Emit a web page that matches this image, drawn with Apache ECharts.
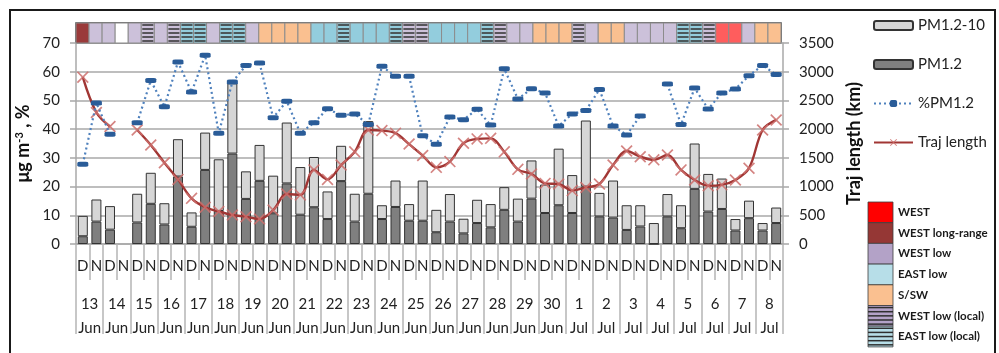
<!DOCTYPE html>
<html>
<head>
<meta charset="utf-8">
<script src="https://cdn.jsdelivr.net/npm/echarts@6/dist/echarts.min.js"></script>
<style>
  html, body { margin: 0; padding: 0; background: #ffffff; }
  #chart { width: 999px; height: 353px; }
</style>
</head>
<body>
<div id="chart"></div>
<script>
// ---- Sampling days (13 Jun - 8 Jul), each split into Day / Night ----
const dayNumbers = ['13','14','15','16','17','18','19','20','21','22','23','24','25','26',
                    '27','28','29','30','1','2','3','4','5','6','7','8'];
const dayMonths  = ['Jun','Jun','Jun','Jun','Jun','Jun','Jun','Jun','Jun','Jun','Jun','Jun','Jun','Jun',
                    'Jun','Jun','Jun','Jun','Jul','Jul','Jul','Jul','Jul','Jul','Jul','Jul'];
const periodLabels = ['D', 'N'];

// ---- Mass concentrations (µg m-3), one value per D/N sample ----
const pm12 = [2.7, 7.8, 5.0, null, 7.5, 14.0, 6.8, 23.5, 6.0, 25.8, 11.5, 31.5, 15.7, 22.0,
              10.7, 21.1, 10.2, 12.8, 8.7, 21.9, 7.8, 17.5, 8.7, 12.9, 8.1, 8.1, 4.1, 7.8,
              3.7, 7.3, 5.8, 11.9, 7.8, 15.8, 10.8, 13.5, 10.8, 20.0, 9.6, 9.2, 4.9, 6.1,
              0, 9.6, 5.5, 19.2, 11.3, 12.2, 4.7, 9.0, 4.7, 7.3];
const pm12to10 = [7.1, 7.7, 8.2, null, 10.0, 10.8, 7.4, 13.0, 5.0, 13.0, 18.0, 24.5, 9.6, 12.5,
                  13.1, 21.2, 16.6, 17.5, 9.6, 12.3, 9.7, 25.3, 4.8, 9.2, 5.8, 14.0, 7.8, 9.6,
                  5.1, 8.1, 8.1, 7.9, 8.0, 13.3, 9.9, 19.7, 13.2, 23.0, 8.2, 12.9, 8.6, 7.4,
                  7.3, 7.8, 8.0, 15.8, 13.1, 10.6, 4.0, 6.1, 2.6, 5.4];

// ---- Fine fraction share (%) ----
const pctPM12 = [27.8, 49.1, 38.2, null, 42.2, 56.9, 47.8, 63.4, 52.9, 65.7, 38.6, 56.4, 62.2, 63.0,
                 44.0, 49.7, 38.6, 42.2, 47.1, 44.8, 45.3, 41.6, 61.9, 58.4, 58.4, 37.7, 34.7, 44.2,
                 43.3, 46.9, 41.4, 61.0, 50.5, 54.1, 52.6, 41.1, 45.3, 46.5, 53.8, 41.1, 38.0, 44.6,
                 null, 55.7, 41.6, 54.3, 47.0, 52.6, 54.0, 58.6, 62.2, 59.0];

// ---- Back-trajectory length (km) ----
const trajLength = [2905, 2290, 2045, null, 1985, 1725, 1415, 1125, 795, 640, 565, 505, 475, 435,
                    590, 870, 855, 1290, 1125, 1375, 1605, 1985, 1975, 1930, 1740, 1540, 1335, 1435,
                    1755, 1830, 1840, 1605, 1300, 1220, 1055, 1045, 930, 985, 1045, 1375, 1620, 1520,
                    1465, 1550, 1290, 1115, 1015, 1030, 1115, 1320, 1985, 2160];

// ---- Air-mass classification strip ----
const bandClasses = ['WLR','WLo','WLo','none','WLo','WLL','WLo','WLL','ELL','ELL','WLo','ELL','ELL','WLo',
                     'S','S','S','S','EL','EL','ELL','EL','EL','EL','ELL','WLL','WLL','EL',
                     'EL','EL','EL','ELL','WLL','WLo','WLo','S','S','S','WLL','WLo','S','S',
                     'WLo','WLo','WLo','WLo','ELL','ELL','WLL','W','W','WLo','S','S'];
const airMassKeys   = ['W', 'WLR', 'WLo', 'EL', 'S', 'WLL', 'ELL'];
const airMassLabels = ['WEST', 'WEST long-range', 'WEST low', 'EAST low', 'S/SW', 'WEST low (local)', 'EAST low (local)'];

// strip colours and legend swatch colours
const stripColor = { W: '#ff5d5d', WLR: '#9a3a3a', WLo: '#ccc1da', EL: '#93cddd', S: '#fac090',
                     WLL: '#ccc1da', ELL: '#93cddd', none: '#ffffff' };
const swatchColor = { W: '#ff0000', WLR: '#953735', WLo: '#b3a2c7', EL: '#b7dee8', S: '#fac090',
                      WLL: '#b3a2c7', ELL: '#b7dee8' };
const hatched = { WLL: true, ELL: true };

const FONT = 'Lato, "Noto Sans", "DejaVu Sans", sans-serif';
const GRID_GRAY = '#a8a8a8';
const TEXT = '#222222';

const slotLabels = [];
dayNumbers.forEach(() => periodLabels.forEach(p => slotLabels.push(p)));
const dayLabels = dayNumbers.map((d, i) => d + '\n' + dayMonths[i]);

// legend for the classification strip, built as graphic elements
function airMassLegend() {
  const x0 = 868, y0 = 202, w = 25, h = 20.7;
  const children = [];
  airMassKeys.forEach((k, i) => {
    const y = y0 + i * h;
    children.push({ type: 'rect', shape: { x: x0, y: y, width: w, height: h },
      style: { fill: swatchColor[k], stroke: '#3c3c3c', lineWidth: 0.8 } });
    if (hatched[k]) {
      for (let s = 0; s < 5; s++) {
        const ly = y + (s + 0.5) * h / 5;
        children.push({ type: 'line', shape: { x1: x0, y1: ly, x2: x0 + w, y2: ly },
          style: { stroke: '#2f2f2f', lineWidth: 1.5 } });
      }
    }
    children.push({ type: 'text', x: x0 + 30, y: y + h / 2,
      style: { text: airMassLabels[i], font: 'bold 11.5px ' + FONT, fill: '#1a1a1a',
               verticalAlign: 'middle', align: 'left' } });
  });
  return { type: 'group', children: children, silent: true };
}

const chart = echarts.init(document.getElementById('chart'), null, { renderer: 'canvas' });

chart.setOption({
  animation: false,
  backgroundColor: '#ffffff',
  textStyle: { fontFamily: FONT },
  grid: [
    { left: 76, right: 216, top: 43, bottom: 109 },
    { left: 76, right: 218, top: 23, height: 20, show: true, borderColor: '#404040',
      borderWidth: 1.5, backgroundColor: 'transparent' }
  ],
  legend: {
    orient: 'vertical', left: 873, top: 18,
    itemWidth: 39, itemHeight: 9, itemGap: 24, padding: 0,
    textStyle: { fontFamily: FONT, fontSize: 15, color: TEXT },
    data: ['PM1.2-10', 'PM1.2', '%PM1.2', 'Traj length']
  },
  xAxis: [
    { type: 'category', gridIndex: 0, data: slotLabels, boundaryGap: true,
      axisLine: { lineStyle: { color: GRID_GRAY, width: 1.5 } },
      axisTick: { show: true, interval: 0, length: 36, lineStyle: { color: '#b5b5b5', width: 1.5 } },
      axisLabel: { interval: 0, margin: 15, fontSize: 15, color: TEXT, fontFamily: FONT },
      splitLine: { show: false } },
    { type: 'category', gridIndex: 0, data: dayLabels, position: 'bottom', offset: 0, boundaryGap: true,
      axisLine: { show: false },
      axisTick: { show: true, interval: 0, length: 90, lineStyle: { color: '#b5b5b5', width: 1.5 } },
      axisLabel: { interval: 0, margin: 48, fontSize: 15, lineHeight: 24, color: TEXT, fontFamily: FONT },
      splitLine: { show: false } },
    { type: 'category', gridIndex: 1, data: bandClasses.map((c, i) => i), show: false, boundaryGap: true }
  ],
  yAxis: [
    { type: 'value', gridIndex: 0, min: 0, max: 70, interval: 10, position: 'left',
      name: '{b|μg m}{s|-3}{b| , %}', nameLocation: 'middle', nameRotate: 90, nameGap: 42,
      nameTextStyle: { rich: {
        b: { fontSize: 18, fontWeight: 'bold', color: '#111', fontFamily: FONT },
        s: { fontSize: 11, fontWeight: 'bold', color: '#111', fontFamily: FONT, verticalAlign: 'top' } } },
      axisLine: { show: true, lineStyle: { color: GRID_GRAY, width: 1.5 } },
      axisTick: { show: true, length: 6, lineStyle: { color: GRID_GRAY, width: 1.5 } },
      axisLabel: { margin: 16, fontSize: 15, color: TEXT, fontFamily: FONT },
      splitLine: { show: true, lineStyle: { color: GRID_GRAY, width: 1.5 } } },
    { type: 'value', gridIndex: 0, min: 0, max: 3500, interval: 500, position: 'right',
      name: 'Traj length (km)', nameLocation: 'middle', nameRotate: 90, nameGap: 60,
      nameTextStyle: { fontSize: 18, fontWeight: 'bold', color: '#111', fontFamily: FONT },
      axisLine: { show: true, lineStyle: { color: GRID_GRAY, width: 1.5 } },
      axisTick: { show: true, length: 6, lineStyle: { color: GRID_GRAY, width: 1.5 } },
      axisLabel: { margin: 16, fontSize: 15, color: TEXT, fontFamily: FONT,
                   formatter: v => String(v) },
      splitLine: { show: false } },
    { type: 'value', gridIndex: 1, min: 0, max: 1, show: false }
  ],
  series: [
    { name: 'PM1.2', type: 'bar', stack: 'pm', xAxisIndex: 0, yAxisIndex: 0, barWidth: 10,
      data: pm12,
      itemStyle: { color: '#7f7f7f', borderColor: '#333333', borderWidth: 1 } },
    { name: 'PM1.2-10', type: 'bar', stack: 'pm', xAxisIndex: 0, yAxisIndex: 0, barWidth: 10,
      data: pm12to10,
      itemStyle: { color: '#d6d6d6', borderColor: '#333333', borderWidth: 1 } },
    { name: '%PM1.2', type: 'line', xAxisIndex: 0, yAxisIndex: 0, data: pctPM12,
      connectNulls: false, z: 4,
      lineStyle: { color: '#4f81bd', width: 2.2, type: [2, 3] },
      symbol: 'roundRect', symbolSize: [11, 5],
      itemStyle: { color: '#2a5c98' } },
    { name: 'Traj length', type: 'line', xAxisIndex: 0, yAxisIndex: 1, data: trajLength,
      connectNulls: false, smooth: 0.35, z: 3,
      lineStyle: { color: '#a13634', width: 2.4 },
      symbol: 'path://M0,1L1,0L5,4L9,0L10,1L6,5L10,9L9,10L5,6L1,10L0,9L4,5Z', symbolSize: 12,
      itemStyle: { color: 'rgba(205,110,108,0.85)' } },
    { name: 'Air mass', type: 'custom', xAxisIndex: 2, yAxisIndex: 2,
      data: bandClasses.map((c, i) => [i]),
      encode: { x: 0 },
      renderItem: function (params, api) {
        const cls = bandClasses[params.dataIndex];
        const top = api.coord([api.value(0), 1]);
        const sz = api.size([1, 1]);
        const x = top[0] - sz[0] / 2, y = top[1], w = sz[0], h = sz[1];
        const kids = [{ type: 'rect', shape: { x: x, y: y, width: w, height: h },
          style: { fill: stripColor[cls], stroke: '#8c8c8c', lineWidth: 1 } }];
        if (hatched[cls]) {
          for (let s = 0; s < 5; s++) {
            const ly = y + (s + 0.5) * h / 5;
            kids.push({ type: 'line', shape: { x1: x + 1, y1: ly, x2: x + w - 1, y2: ly },
              style: { stroke: '#3a3a3a', lineWidth: 1.6 } });
          }
        }
        return { type: 'group', children: kids };
      } }
  ],
  graphic: [
    { type: 'rect', shape: { x: 10, y: 10, width: 985, height: 360 }, silent: true,
      style: { fill: 'none', stroke: '#1a1a1a', lineWidth: 2 } },
    airMassLegend()
  ]
});
</script>
</body>
</html>
